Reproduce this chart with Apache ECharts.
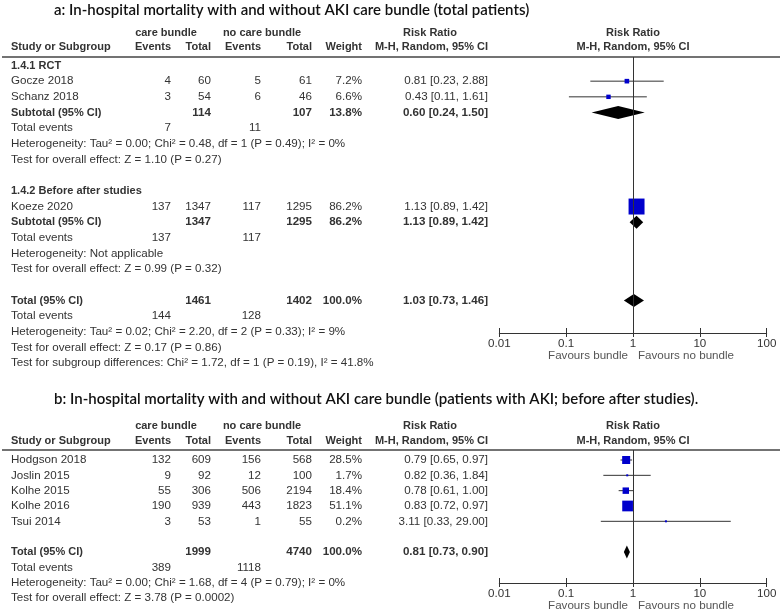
<!DOCTYPE html>
<html><head><meta charset="utf-8">
<script src="https://cdn.jsdelivr.net/npm/echarts@6.0.0/dist/echarts.min.js"></script>
<style>html,body{margin:0;padding:0;background:#fff}#c{width:780px;height:612px}</style>
</head><body><div id="c"></div>
<script>
// ---------------- Panel a data ----------------
const aTitle = 'a: In-hospital mortality with and without AKI care bundle (total patients)';
const aGroupNames = ['1.4.1 RCT', '1.4.2 Before after studies'];
const aStudies = ['Gocze 2018', 'Schanz 2018', 'Koeze 2020'];
const aStudyGroup = [0, 0, 1];
const aEventsCare = [4, 3, 137];
const aTotalCare = [60, 54, 1347];
const aEventsNo = [5, 6, 117];
const aTotalNo = [61, 46, 1295];
const aWeight = [7.2, 6.6, 86.2];
const aRR = [0.81, 0.43, 1.13];
const aLow = [0.23, 0.11, 0.89];
const aHigh = [2.88, 1.61, 1.42];
const aSubTotalCare = [114, 1347];
const aSubTotalNo = [107, 1295];
const aSubWeight = [13.8, 86.2];
const aSubRR = [0.60, 1.13];
const aSubLow = [0.24, 0.89];
const aSubHigh = [1.50, 1.42];
const aSubEventsCare = [7, 137];
const aSubEventsNo = [11, 117];
const aSubHet = ['Heterogeneity: Tau² = 0.00; Chi² = 0.48, df = 1 (P = 0.49); I² = 0%', 'Heterogeneity: Not applicable'];
const aSubTest = ['Test for overall effect: Z = 1.10 (P = 0.27)', 'Test for overall effect: Z = 0.99 (P = 0.32)'];
const aOverallTotals = [1461, 1402];
const aOverallEvents = [144, 128];
const aOverallWeight = 100.0;
const aOverallCI = [1.03, 0.73, 1.46];
const aOverallNotes = ['Heterogeneity: Tau² = 0.02; Chi² = 2.20, df = 2 (P = 0.33); I² = 9%',
  'Test for overall effect: Z = 0.17 (P = 0.86)',
  'Test for subgroup differences: Chi² = 1.72, df = 1 (P = 0.19), I² = 41.8%'];

// ---------------- Panel b data ----------------
const bTitle = 'b: In-hospital mortality with and without AKI care bundle (patients with AKI; before after studies).';
const bStudies = ['Hodgson 2018', 'Joslin 2015', 'Kolhe 2015', 'Kolhe 2016', 'Tsui 2014'];
const bEventsCare = [132, 9, 55, 190, 3];
const bTotalCare = [609, 92, 306, 939, 53];
const bEventsNo = [156, 12, 506, 443, 1];
const bTotalNo = [568, 100, 2194, 1823, 55];
const bWeight = [28.5, 1.7, 18.4, 51.1, 0.2];
const bRR = [0.79, 0.82, 0.78, 0.83, 3.11];
const bLow = [0.65, 0.36, 0.61, 0.72, 0.33];
const bHigh = [0.97, 1.84, 1.00, 0.97, 29.00];
const bOverallTotals = [1999, 4740];
const bOverallEvents = [389, 1118];
const bOverallWeight = 100.0;
const bOverallCI = [0.81, 0.73, 0.90];
const bOverallNotes = ['Heterogeneity: Tau² = 0.00; Chi² = 1.68, df = 4 (P = 0.79); I² = 0%',
  'Test for overall effect: Z = 3.78 (P = 0.0002)'];

// axis tick labels
const tickLabels = ['0.01', '0.1', '1', '10', '100'];
const favourLabels = ['Favours bundle', 'Favours no bundle'];
const headTop = ['care bundle', 'no care bundle', 'Risk Ratio', 'Risk Ratio'];
const headCols = ['Study or Subgroup', 'Events', 'Total', 'Events', 'Total', 'Weight', 'M-H, Random, 95% CI', 'M-H, Random, 95% CI'];

// ---------------- layout / style ----------------
const FONT = '"Liberation Sans", Arial, sans-serif';
const TFONT = 'Lato, "Open Sans", sans-serif';
const TXT = '#333';
const REG = '11.6px ' + FONT;
const BOLD = 'bold 11px ' + FONT;
const BOLDNUM = 'bold 11.6px ' + FONT;
const COL = { study: 11, evCare: 171, totCare: 211, evNo: 261, totNo: 312, weight: 362, rr: 488,
  careHead: 166, noHead: 262, rrHead: 430, plotHead: 633, titleX: 54, lineX0: 2, lineX1: 780 };
const PLOT_L = 499.3, PLOT_W = 267.4;
const LA = { row0: 65.5, unit: 15.67, lineY: 57, axisY: 333, titleY: 10, careY: 33, headY: 47, textTop: 0, textBot: 380, sq: 1.72 };
const LB = { row0: 460, unit: 15.33, lineY: 450, axisY: 583, titleY: 399, careY: 426, headY: 441, textTop: 380, textBot: 612, sq: 1.5 };

const fmtCI = (r, l, h) => r.toFixed(2) + ' [' + l.toFixed(2) + ', ' + h.toFixed(2) + ']';
const fmtW = w => w.toFixed(1) + '%';
const rowOf = (L, y) => (y - L.row0) / L.unit;

function header(L, title, texts) {
  texts.push({ x: COL.titleX, row: rowOf(L, L.titleY), text: title, align: 'left', font: '600 15px ' + TFONT, color: '#111' });
  const rc = rowOf(L, L.careY), rh = rowOf(L, L.headY);
  texts.push({ x: COL.careHead, row: rc, text: headTop[0], align: 'center', font: BOLD });
  texts.push({ x: COL.noHead, row: rc, text: headTop[1], align: 'center', font: BOLD });
  texts.push({ x: COL.rrHead, row: rc, text: headTop[2], align: 'center', font: BOLD });
  texts.push({ x: COL.plotHead, row: rc, text: headTop[3], align: 'center', font: BOLD });
  const xs = [COL.study, COL.evCare, COL.totCare, COL.evNo, COL.totNo, COL.weight, COL.rr, COL.plotHead];
  const al = ['left', 'right', 'right', 'right', 'right', 'right', 'right', 'center'];
  headCols.forEach((t, i) => texts.push({ x: xs[i], row: rh, text: t, align: al[i], font: BOLD }));
}

function studyRow(texts, marks, row, name, ec, tc, en, tn, w, r, l, h, sq) {
  texts.push({ x: COL.study, row, text: name, align: 'left', font: REG });
  texts.push({ x: COL.evCare, row, text: String(ec), align: 'right', font: REG });
  texts.push({ x: COL.totCare, row, text: String(tc), align: 'right', font: REG });
  texts.push({ x: COL.evNo, row, text: String(en), align: 'right', font: REG });
  texts.push({ x: COL.totNo, row, text: String(tn), align: 'right', font: REG });
  texts.push({ x: COL.weight, row, text: fmtW(w), align: 'right', font: REG });
  texts.push({ x: COL.rr, row, text: fmtCI(r, l, h), align: 'right', font: REG });
  marks.push([r, row, l, h, Math.max(2, sq * Math.sqrt(w))]);
}
function pooledRow(texts, diamonds, row, name, tc, tn, w, r, l, h) {
  texts.push({ x: COL.study, row, text: name, align: 'left', font: BOLD });
  texts.push({ x: COL.totCare, row, text: String(tc), align: 'right', font: BOLDNUM });
  texts.push({ x: COL.totNo, row, text: String(tn), align: 'right', font: BOLDNUM });
  texts.push({ x: COL.weight, row, text: fmtW(w), align: 'right', font: BOLDNUM });
  texts.push({ x: COL.rr, row, text: fmtCI(r, l, h), align: 'right', font: BOLDNUM });
  diamonds.push([r, row, l, h]);
}
function eventsRow(texts, row, ec, en) {
  texts.push({ x: COL.study, row, text: 'Total events', align: 'left', font: REG });
  texts.push({ x: COL.evCare, row, text: String(ec), align: 'right', font: REG });
  texts.push({ x: COL.evNo, row, text: String(en), align: 'right', font: REG });
}
function noteRow(texts, row, t) {
  texts.push({ x: COL.study, row, text: t, align: 'left', font: REG });
}

// ---- build panel a ----
const aTexts = [], aMarks = [], aDiamonds = [];
header(LA, aTitle, aTexts);
let r = 0;
aGroupNames.forEach((g, gi) => {
  aTexts.push({ x: COL.study, row: r, text: g, align: 'left', font: BOLD });
  r++;
  aStudies.forEach((s, i) => {
    if (aStudyGroup[i] !== gi) return;
    studyRow(aTexts, aMarks, r, s, aEventsCare[i], aTotalCare[i], aEventsNo[i], aTotalNo[i], aWeight[i], aRR[i], aLow[i], aHigh[i], LA.sq);
    r++;
  });
  pooledRow(aTexts, aDiamonds, r, 'Subtotal (95% CI)', aSubTotalCare[gi], aSubTotalNo[gi], aSubWeight[gi], aSubRR[gi], aSubLow[gi], aSubHigh[gi]);
  r++;
  eventsRow(aTexts, r, aSubEventsCare[gi], aSubEventsNo[gi]); r++;
  noteRow(aTexts, r, aSubHet[gi]); r++;
  noteRow(aTexts, r, aSubTest[gi]); r++;
  r++; // blank
});
pooledRow(aTexts, aDiamonds, r, 'Total (95% CI)', aOverallTotals[0], aOverallTotals[1], aOverallWeight, aOverallCI[0], aOverallCI[1], aOverallCI[2]);
r++;
eventsRow(aTexts, r, aOverallEvents[0], aOverallEvents[1]); r++;
aOverallNotes.forEach(t => { noteRow(aTexts, r, t); r++; });

// ---- build panel b ----
const bTexts = [], bMarks = [], bDiamonds = [];
header(LB, bTitle, bTexts);
r = 0;
bStudies.forEach((s, i) => {
  studyRow(bTexts, bMarks, r, s, bEventsCare[i], bTotalCare[i], bEventsNo[i], bTotalNo[i], bWeight[i], bRR[i], bLow[i], bHigh[i], LB.sq);
  r++;
});
r++; // blank
pooledRow(bTexts, bDiamonds, r, 'Total (95% CI)', bOverallTotals[0], bOverallTotals[1], bOverallWeight, bOverallCI[0], bOverallCI[1], bOverallCI[2]);
r++;
eventsRow(bTexts, r, bOverallEvents[0], bOverallEvents[1]); r++;
bOverallNotes.forEach(t => { noteRow(bTexts, r, t); r++; });

// ---------------- chart ----------------
const grids = [], xAxes = [], yAxes = [], series = [];

function textSeries(xi, yi, items) {
  return {
    type: 'custom', xAxisIndex: xi, yAxisIndex: yi, clip: false, silent: true, z: 5,
    data: items.map((it, i) => [it.x, it.row, i]),
    encode: { x: 0, y: 1 },
    renderItem: (params, api) => {
      const it = items[params.dataIndex];
      const p = api.coord([api.value(0), api.value(1)]);
      return { type: 'text', x: p[0] + (it.dx || 0), y: p[1] + (it.dy || 0),
        style: { text: it.text, fill: it.color || TXT, font: it.font, align: it.align, verticalAlign: 'middle' } };
    }
  };
}

function addPanel(L, texts, marks, diamonds) {
  const g0 = grids.length;
  const plotH = L.axisY - L.lineY;
  grids.push({ left: 0, width: 780, top: L.textTop, height: L.textBot - L.textTop, containLabel: false, outerBoundsMode: 'none' });
  grids.push({ left: PLOT_L, width: PLOT_W, top: L.lineY, height: plotH, containLabel: false, outerBoundsMode: 'none' });
  const xt = xAxes.length;
  xAxes.push({ gridIndex: g0, type: 'value', min: 0, max: 780, show: false });
  const logBase = {
    gridIndex: g0 + 1, type: 'log', logBase: 10, min: 0.01, max: 100,
    splitLine: { show: false }, minorTick: { show: false }
  };
  // main log axis: line, downward ticks, labels
  xAxes.push(Object.assign({}, logBase, {
    position: 'bottom',
    axisLine: { show: true, onZero: false, lineStyle: { color: '#333', width: 1 } },
    axisTick: { show: true, inside: false, length: 4, lineStyle: { color: '#333', width: 1 } },
    axisLabel: { show: true, margin: 5, color: TXT, fontFamily: FONT, fontSize: 11.6,
      formatter: v => tickLabels[Math.round(Math.log10(v)) + 2] }
  }));
  // companion axis moved onto the bottom edge to draw the upward half of each tick
  xAxes.push(Object.assign({}, logBase, {
    position: 'top', offset: -plotH,
    axisLine: { show: false, onZero: false }, axisLabel: { show: false },
    axisTick: { show: true, inside: false, length: 5, lineStyle: { color: '#333', width: 1 } }
  }));
  const yt = yAxes.length;
  yAxes.push({ gridIndex: g0, type: 'value', inverse: true, show: false,
    min: rowOf(L, L.textTop), max: rowOf(L, L.textBot) });
  yAxes.push({ gridIndex: g0 + 1, type: 'value', inverse: true, show: false,
    min: rowOf(L, L.lineY), max: rowOf(L, L.axisY) });

  // header rule
  series.push({
    type: 'custom', xAxisIndex: xt, yAxisIndex: yt, clip: false, silent: true,
    data: [[COL.lineX0, rowOf(L, L.lineY)]],
    renderItem: (params, api) => {
      const a = api.coord([api.value(0), api.value(1)]);
      const b = api.coord([COL.lineX1, api.value(1)]);
      return { type: 'line', shape: { x1: a[0], y1: a[1], x2: b[0], y2: b[1] }, style: { stroke: '#444', lineWidth: 1.5 } };
    }
  });
  series.push(textSeries(xt, yt, texts));
  // null-effect line at RR = 1
  series.push({ type: 'scatter', xAxisIndex: xt + 1, yAxisIndex: yt + 1, data: [], silent: true,
    markLine: { silent: true, symbol: ['none', 'none'], label: { show: false }, animation: false,
      lineStyle: { color: '#333', width: 1, type: 'solid' }, data: [{ xAxis: 1 }] } });
  // study CIs + squares
  series.push({
    type: 'custom', xAxisIndex: xt + 1, yAxisIndex: yt + 1, clip: false, silent: true, z: 3,
    data: marks, encode: { x: [0, 2, 3], y: 1 },
    renderItem: (params, api) => {
      const rr = api.value(0), row = api.value(1), lo = api.value(2), hi = api.value(3), sz = api.value(4);
      const c = api.coord([rr, row]), l = api.coord([lo, row]), h = api.coord([hi, row]);
      return { type: 'group', children: [
        { type: 'line', shape: { x1: l[0], y1: c[1], x2: h[0], y2: c[1] }, style: { stroke: '#333', lineWidth: 1 } },
        { type: 'rect', shape: { x: c[0] - sz / 2, y: c[1] - sz / 2, width: sz, height: sz }, style: { fill: '#0000cc' } }
      ] };
    }
  });
  // pooled diamonds
  series.push({
    type: 'custom', xAxisIndex: xt + 1, yAxisIndex: yt + 1, clip: false, silent: true, z: 3,
    data: diamonds, encode: { x: [0, 2, 3], y: 1 },
    renderItem: (params, api) => {
      const rr = api.value(0), row = api.value(1), lo = api.value(2), hi = api.value(3);
      const c = api.coord([rr, row]), l = api.coord([lo, row]), h = api.coord([hi, row]);
      const hh = 6.5;
      return { type: 'polygon', shape: { points: [[l[0], c[1]], [c[0], c[1] - hh], [h[0], c[1]], [c[0], c[1] + hh]] },
        style: { fill: '#000' } };
    }
  });
  // favours labels under the axis
  const rMax = rowOf(L, L.axisY);
  series.push(textSeries(xt + 1, yt + 1, [
    { x: 1, row: rMax, text: favourLabels[0], align: 'right', dx: -5, dy: 23, font: REG, color: '#555' },
    { x: 1, row: rMax, text: favourLabels[1], align: 'left', dx: 5, dy: 23, font: REG, color: '#555' }
  ]));
}

addPanel(LA, aTexts, aMarks, aDiamonds);
addPanel(LB, bTexts, bMarks, bDiamonds);

const chart = echarts.init(document.getElementById('c'), null, { renderer: 'canvas' });
chart.setOption({ animation: false, backgroundColor: '#fff', grid: grids, xAxis: xAxes, yAxis: yAxes, series: series });
</script></body></html>
